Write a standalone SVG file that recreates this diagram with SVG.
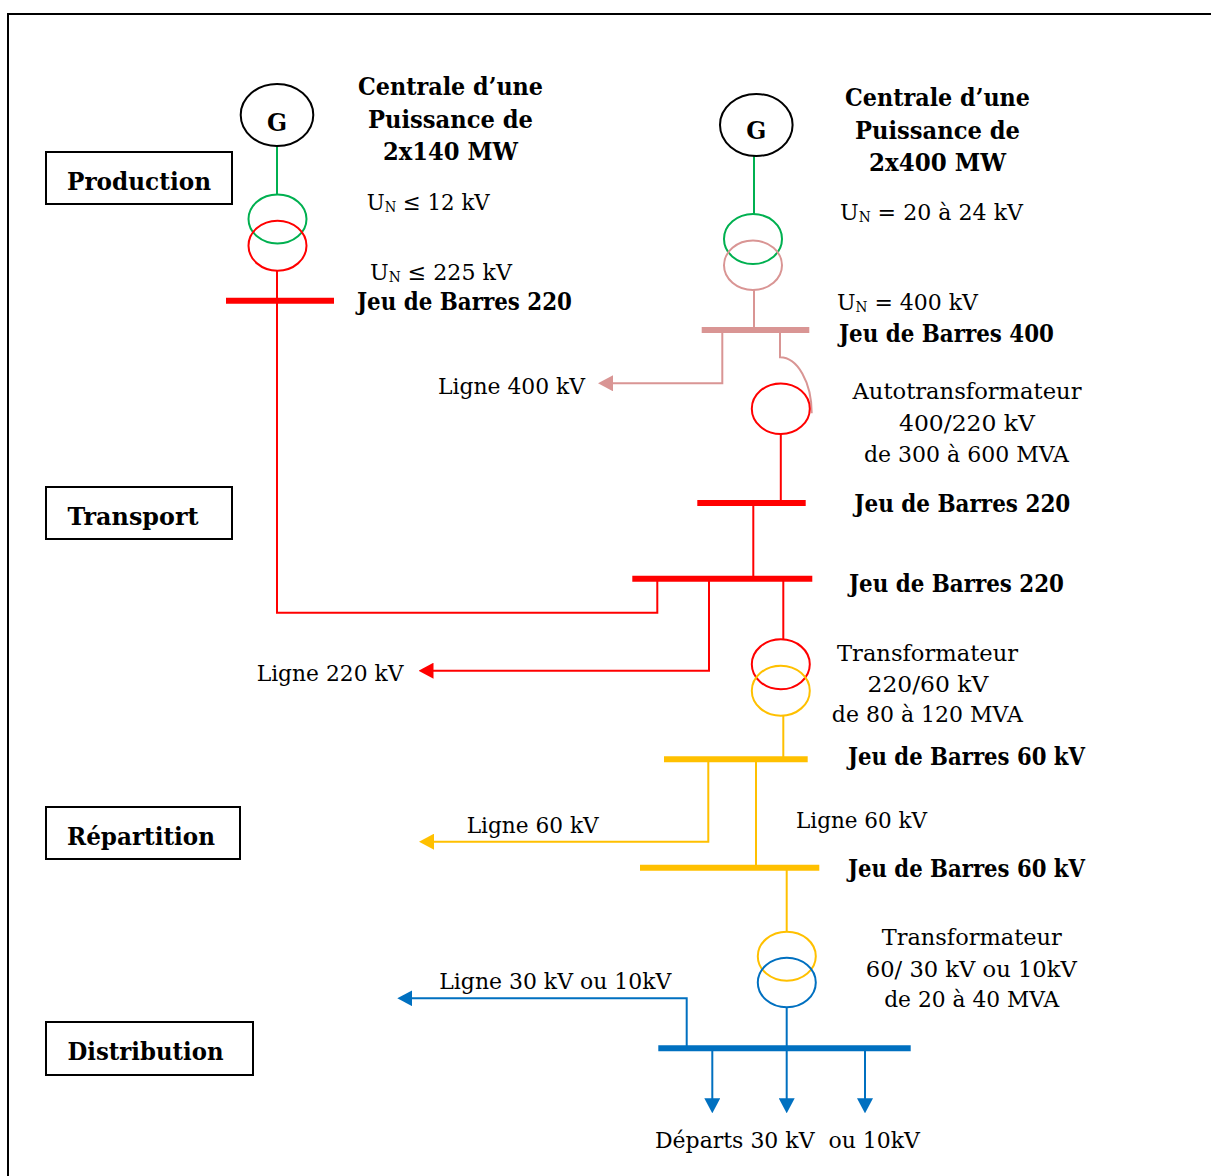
<svg xmlns="http://www.w3.org/2000/svg" width="1211" height="1176" viewBox="0 0 1211 1176">
<style>
text{font-family:"DejaVu Serif","Liberation Serif",serif;fill:#000}
.b{font-weight:bold;font-size:23.5px}
.r{font-size:22.6px}
.m{text-anchor:middle}
.box{fill:none;stroke:#000;stroke-width:2}
.w{fill:none;stroke-width:2}
.bus{fill:none;stroke-width:6}
.red{stroke:#FF0000}.grn{stroke:#00B050}.yel{stroke:#FFC000}.blu{stroke:#0070C0}.pnk{stroke:#D99594}.blk{stroke:#000}
.circ{fill:none;stroke-width:2}
</style>
<defs>
<marker id="aR" viewBox="0 0 15 16" refX="5" refY="8" markerWidth="15" markerHeight="16" markerUnits="userSpaceOnUse" orient="auto"><path d="M0,0L15,8L0,16Z" fill="#FF0000"/></marker>
<marker id="aP" viewBox="0 0 15 16" refX="5" refY="8" markerWidth="15" markerHeight="16" markerUnits="userSpaceOnUse" orient="auto"><path d="M0,0L15,8L0,16Z" fill="#D99594"/></marker>
<marker id="aY" viewBox="0 0 15 16" refX="5" refY="8" markerWidth="15" markerHeight="16" markerUnits="userSpaceOnUse" orient="auto"><path d="M0,0L15,8L0,16Z" fill="#FFC000"/></marker>
<marker id="aB" viewBox="0 0 15 16" refX="5" refY="8" markerWidth="15" markerHeight="16" markerUnits="userSpaceOnUse" orient="auto"><path d="M0,0L15,8L0,16Z" fill="#0070C0"/></marker>
</defs>
<rect x="0" y="0" width="1211" height="1176" fill="#fff"/>
<rect id="frame" x="8" y="14" width="1220" height="1180" fill="none" stroke="#000" stroke-width="2"/>

<g id="connectors">
  <path class="w grn" d="M277,146V194"/>
  <path class="w red" d="M277,271V300.7"/>
  <path class="bus red" d="M226,300.7H334"/>
  <path class="w red" d="M277,300.7V612.7H657.3V578.7"/>
  <path class="w grn" d="M754,156V214.3"/>
  <path class="w pnk" d="M754,290V330"/>
  <path class="bus pnk" d="M701.7,330H809.3" stroke-width="5.5"/>
  <path class="w pnk" d="M722.3,330V383.3H608" marker-end="url(#aP)"/>
  <path class="w pnk" d="M780,330V357.3A31.7,56 0 0 1 811.7,413.3"/>
  <path class="w red" d="M780.8,434V503"/>
  <path class="bus red" d="M697.3,503H805.7" stroke-width="5.5"/>
  <path class="w red" d="M753.3,503V578.7"/>
  <path class="bus red" d="M632.3,578.7H812.3"/>
  <path class="w red" d="M709,578.7V670.7H428.5" marker-end="url(#aR)"/>
  <path class="w red" d="M783.3,578.7V639.3"/>
  <path class="w yel" d="M783.3,715.7V759.3"/>
  <path class="bus yel" d="M664,759.3H807.7"/>
  <path class="w yel" d="M708.3,759.3V841.7H429" marker-end="url(#aY)"/>
  <path class="w yel" d="M756,759.3V867.7"/>
  <path class="bus yel" d="M640,867.7H819.3"/>
  <path class="w yel" d="M786.7,867.7V931.7"/>
  <path class="w blu" d="M786.7,1007.3V1048.3"/>
  <path class="bus blu" d="M658.3,1048.3H910.7"/>
  <path class="w blu" d="M686.7,1048.3V998.3H407.3" marker-end="url(#aB)"/>
  <path class="w blu" d="M712.3,1048.3V1103.3" marker-end="url(#aB)"/>
  <path class="w blu" d="M786.7,1048.3V1103.3" marker-end="url(#aB)"/>
  <path class="w blu" d="M865,1048.3V1103.3" marker-end="url(#aB)"/>
</g>

<g id="box-production"><rect class="box" x="46" y="152" width="186" height="52"/><text class="b" x="67" y="189.5" textLength="144" lengthAdjust="spacingAndGlyphs">Production</text></g>
<g id="box-transport"><rect class="box" x="46" y="487" width="186" height="52"/><text class="b" x="67.5" y="525" textLength="131" lengthAdjust="spacingAndGlyphs">Transport</text></g>
<g id="box-repartition"><rect class="box" x="46" y="807" width="194" height="52"/><text class="b" x="67" y="845" textLength="148" lengthAdjust="spacingAndGlyphs">Répartition</text></g>
<g id="box-distribution"><rect class="box" x="46" y="1022" width="207" height="53"/><text class="b" x="67.5" y="1060" textLength="156" lengthAdjust="spacingAndGlyphs">Distribution</text></g>

<g id="gen-left">
  <ellipse class="circ blk" cx="277" cy="115" rx="36.3" ry="31"/>
  <text class="b m" x="277" y="130.7">G</text>
  <text class="b m" x="450.5" y="95" textLength="185" lengthAdjust="spacingAndGlyphs">Centrale d’une</text>
  <text class="b m" x="450.5" y="128.3" textLength="165" lengthAdjust="spacingAndGlyphs">Puissance de</text>
  <text class="b m" x="450.5" y="160" textLength="135" lengthAdjust="spacingAndGlyphs">2x140 MW</text>
</g>
<g id="tr-left">
  <ellipse class="circ grn" cx="277.5" cy="219" rx="29" ry="24.5"/>
  <ellipse class="circ red" cx="277.5" cy="245.7" rx="29" ry="25"/>
  <text class="r" x="366.7" y="210" textLength="123" lengthAdjust="spacingAndGlyphs">U<tspan font-size="14" dy="2">N</tspan><tspan dy="-2"> ≤ 12 kV</tspan></text>
  <text class="r" x="370" y="280" textLength="142" lengthAdjust="spacingAndGlyphs">U<tspan font-size="14" dy="2">N</tspan><tspan dy="-2"> ≤ 225 kV</tspan></text>
</g>
<g id="bus-220-left"><text class="b" x="357" y="310" textLength="215" lengthAdjust="spacingAndGlyphs">Jeu de Barres 220</text></g>

<g id="gen-right">
  <ellipse class="circ blk" cx="756.3" cy="125" rx="36.3" ry="31"/>
  <text class="b m" x="756.3" y="139.3">G</text>
  <text class="b m" x="937.5" y="106" textLength="185" lengthAdjust="spacingAndGlyphs">Centrale d’une</text>
  <text class="b m" x="937.5" y="139.3" textLength="165" lengthAdjust="spacingAndGlyphs">Puissance de</text>
  <text class="b m" x="937.5" y="170.7" textLength="137" lengthAdjust="spacingAndGlyphs">2x400 MW</text>
</g>
<g id="tr-right">
  <ellipse class="circ grn" cx="753" cy="239" rx="29" ry="25"/>
  <ellipse class="circ pnk" cx="753" cy="265.3" rx="29" ry="24.7"/>
  <text class="r" x="840" y="220" textLength="183" lengthAdjust="spacingAndGlyphs">U<tspan font-size="14" dy="2">N</tspan><tspan dy="-2"> = 20 à 24 kV</tspan></text>
  <text class="r" x="837" y="310" textLength="141" lengthAdjust="spacingAndGlyphs">U<tspan font-size="14" dy="2">N</tspan><tspan dy="-2"> = 400 kV</tspan></text>
</g>
<g id="bus-400"><text class="b" x="839" y="341.7" textLength="215" lengthAdjust="spacingAndGlyphs">Jeu de Barres 400</text></g>
<g id="line-400"><text class="r" x="438" y="394" textLength="147" lengthAdjust="spacingAndGlyphs">Ligne 400 kV</text></g>

<g id="autotransfo">
  <ellipse class="circ red" cx="780.8" cy="408.7" rx="29" ry="25.3"/>
  <text class="r m" x="967" y="399.3" textLength="229" lengthAdjust="spacingAndGlyphs">Autotransformateur</text>
  <text class="r m" x="967" y="430.7" textLength="136" lengthAdjust="spacingAndGlyphs">400/220 kV</text>
  <text class="r m" x="966.5" y="461.7" textLength="205" lengthAdjust="spacingAndGlyphs">de 300 à 600 MVA</text>
</g>
<g id="bus-220-a"><text class="b" x="854.3" y="511.7" textLength="216" lengthAdjust="spacingAndGlyphs">Jeu de Barres 220</text></g>
<g id="bus-220-b"><text class="b" x="849" y="591.7" textLength="215" lengthAdjust="spacingAndGlyphs">Jeu de Barres 220</text></g>
<g id="line-220"><text class="r" x="256.7" y="680.7" textLength="146.7" lengthAdjust="spacingAndGlyphs">Ligne 220 kV</text></g>

<g id="tr-220-60">
  <ellipse class="circ red" cx="780.8" cy="664.3" rx="29" ry="25"/>
  <ellipse class="circ yel" cx="780.8" cy="690.7" rx="29" ry="25"/>
  <text class="r m" x="927.5" y="660.7" textLength="181" lengthAdjust="spacingAndGlyphs">Transformateur</text>
  <text class="r m" x="928" y="691.7" textLength="121" lengthAdjust="spacingAndGlyphs">220/60 kV</text>
  <text class="r m" x="927.3" y="721.7" textLength="191" lengthAdjust="spacingAndGlyphs">de 80 à 120 MVA</text>
</g>
<g id="bus-60-a"><text class="b" x="848" y="765" textLength="237" lengthAdjust="spacingAndGlyphs">Jeu de Barres 60 kV</text></g>
<g id="line-60-left"><text class="r" x="466.7" y="833.3" textLength="132" lengthAdjust="spacingAndGlyphs">Ligne 60 kV</text></g>
<g id="line-60-right"><text class="r" x="796" y="828.3" textLength="131" lengthAdjust="spacingAndGlyphs">Ligne 60 kV</text></g>
<g id="bus-60-b"><text class="b" x="848" y="876.7" textLength="237" lengthAdjust="spacingAndGlyphs">Jeu de Barres 60 kV</text></g>

<g id="tr-60-30">
  <ellipse class="circ yel" cx="786.8" cy="956.2" rx="29" ry="24.5"/>
  <ellipse class="circ blu" cx="786.8" cy="982.5" rx="29" ry="24.8"/>
  <text class="r m" x="971.7" y="945" textLength="180" lengthAdjust="spacingAndGlyphs">Transformateur</text>
  <text class="r m" x="971.3" y="976.7" textLength="211" lengthAdjust="spacingAndGlyphs">60/ 30 kV ou 10kV</text>
  <text class="r m" x="971.7" y="1006.7" textLength="175" lengthAdjust="spacingAndGlyphs">de 20 à 40 MVA</text>
</g>
<g id="line-30"><text class="r" x="439.3" y="989.3" textLength="232" lengthAdjust="spacingAndGlyphs">Ligne 30 kV ou 10kV</text></g>
<g id="bus-distribution"><text class="r" x="655" y="1148.3" textLength="265" lengthAdjust="spacingAndGlyphs" xml:space="preserve">Départs 30 kV  ou 10kV</text></g>
</svg>
